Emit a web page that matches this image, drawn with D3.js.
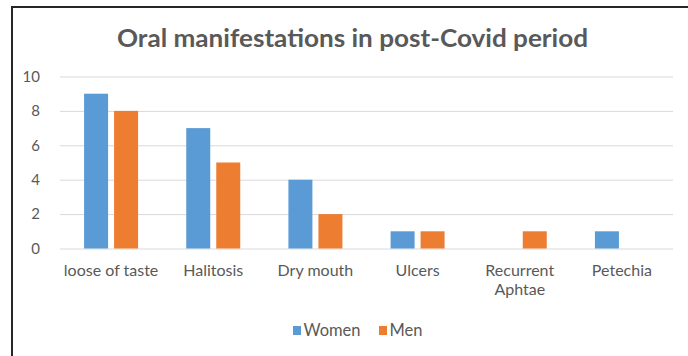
<!DOCTYPE html>
<html>
<head>
<meta charset="utf-8">
<script src="https://cdn.jsdelivr.net/npm/d3@7"></script>
<style>
  body { margin: 0; background: #fff; }
  svg { display: block; }
</style>
</head>
<body>
<div id="chart"></div>
<script>
const categories = ["loose of taste", "Halitosis", "Dry mouth", "Ulcers", "Recurrent Aphtae", "Petechia"];
const seriesNames = ["Women", "Men"];
const women = [9, 7, 4, 1, 0, 1];
const men = [8, 5, 2, 1, 1, 0];
const yTicks = [0, 2, 4, 6, 8, 10];
const title = "Oral manifestations in post-Covid period";

const width = 688, height = 356;
const colors = { Women: "#5B9BD5", Men: "#ED7D31" };
const textColor = "#595959";
const font = "Lato, 'Open Sans', sans-serif";

const svg = d3.select("#chart").append("svg")
  .attr("width", width)
  .attr("height", height);

svg.append("rect").attr("width", width).attr("height", height).attr("fill", "#fff");

// frame (only top and left edges show)
svg.append("line").attr("x1", 12).attr("x2", width).attr("y1", 7).attr("y2", 7)
  .attr("stroke", "#262626").attr("stroke-width", 2);
svg.append("line").attr("x1", 12).attr("x2", 12).attr("y1", 6).attr("y2", height)
  .attr("stroke", "#262626").attr("stroke-width", 2);

svg.append("text")
  .attr("x", 117).attr("y", 47)
  .attr("font-family", font)
  .attr("font-weight", "bold")
  .attr("font-size", "24px")
  .attr("textLength", 471)
  .attr("lengthAdjust", "spacingAndGlyphs")
  .attr("fill", textColor)
  .text(title);

const xScale = d3.scaleBand().domain(categories).range([60, 673]);
const xInner = d3.scaleBand().domain(seriesNames).range([-27, 27]).paddingInner(0.2);
const yScale = d3.scaleLinear().domain([0, 10]).range([248.5, 76.5]);

// gridlines
const yAxis = d3.axisLeft(yScale).tickValues(yTicks).tickSize(-(673 - 60)).tickPadding(20);
const gy = svg.append("g")
  .attr("class", "axis")
  .attr("transform", "translate(60,0)")
  .call(yAxis);
gy.select(".domain").remove();
gy.selectAll(".tick line").attr("stroke", "#D9D9D9").attr("stroke-width", 1);
gy.selectAll(".tick text")
  .attr("font-family", font)
  .attr("font-size", "15px")
  .attr("fill", textColor);

const data = categories.map((c, i) => ({ cat: c, Women: women[i], Men: men[i] }));

const groups = svg.selectAll("g.cat")
  .data(data)
  .enter()
  .append("g")
  .attr("class", "cat")
  .attr("transform", d => "translate(" + (xScale(d.cat) + xScale.bandwidth() / 2) + ",0)");

groups.selectAll("rect")
  .data(d => seriesNames.map(s => ({ s: s, v: d[s] })))
  .enter()
  .append("rect")
  .attr("x", d => xInner(d.s))
  .attr("y", d => yScale(d.v))
  .attr("width", xInner.bandwidth())
  .attr("height", d => yScale(0) - yScale(d.v))
  .attr("fill", d => colors[d.s]);

// category labels, wrapped like the original
const xLabels = { "Recurrent Aphtae": ["Recurrent", "Aphtae"] };
groups.append("text")
  .attr("text-anchor", "middle")
  .attr("font-family", font)
  .attr("font-size", "16px")
  .attr("fill", textColor)
  .each(function (d) {
    const lines = xLabels[d.cat] || [d.cat];
    lines.forEach((l, i) => {
      d3.select(this).append("tspan").attr("x", 0).attr("y", 276 + i * 19).text(l);
    });
  });

// legend
const legendItems = [
  { name: "Women", x: 293 },
  { name: "Men", x: 379 }
];
const legend = svg.selectAll("g.legend")
  .data(legendItems)
  .enter()
  .append("g")
  .attr("class", "legend")
  .attr("transform", d => "translate(" + d.x + ",0)");
legend.append("rect")
  .attr("x", 0).attr("y", 326)
  .attr("width", 8).attr("height", 9)
  .attr("fill", d => colors[d.name]);
legend.append("text")
  .attr("x", 10.5).attr("y", 336)
  .attr("font-family", font)
  .attr("font-size", "16.5px")
  .attr("fill", textColor)
  .text(d => d.name);
</script>
</body>
</html>
